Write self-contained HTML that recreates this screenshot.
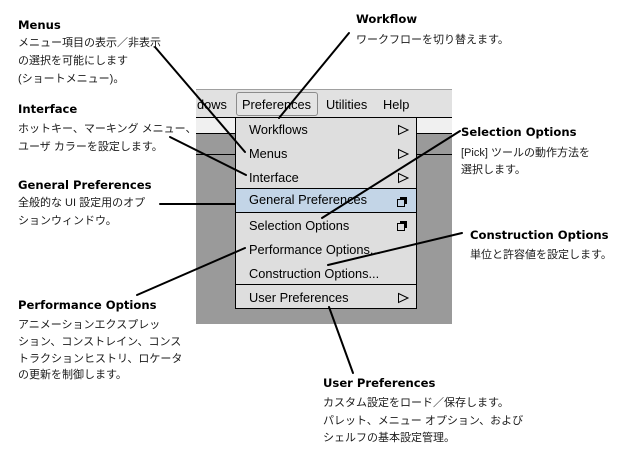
<!DOCTYPE html>
<html>
<head>
<meta charset="utf-8">
<style>
  html, body { margin:0; padding:0; }
  body { width:631px; height:470px; position:relative; background:#fff; overflow:hidden; }
  .t { position:absolute; font-family:"DejaVu Sans","Liberation Sans",sans-serif; font-weight:bold; font-size:11.6px; line-height:14px; color:#000; white-space:nowrap; }
  .j { position:absolute; font-family:"Liberation Sans","Noto Sans CJK JP",sans-serif; font-size:11px; line-height:16px; color:#1a1a1a; white-space:nowrap; }
  .m { position:absolute; font-family:"Liberation Sans",sans-serif; font-size:12.8px; line-height:16px; color:#000; white-space:nowrap; }
  .abs { position:absolute; }
</style>
</head>
<body>

<!-- UI panel -->
<div class="abs" style="left:196px;top:89px;width:256px;height:235px;background:#9a9a9a;"></div>
<!-- menubar -->
<div class="abs" style="left:196px;top:89px;width:256px;height:28px;background:#e1e1e1;border-top:1px solid #a0a0a0;box-sizing:border-box;"></div>
<div class="abs" style="left:196px;top:117px;width:256px;height:1px;background:#000;"></div>
<!-- light strip -->
<div class="abs" style="left:196px;top:118px;width:256px;height:15px;background:#f0f0f0;"></div>
<div class="abs" style="left:196px;top:133px;width:256px;height:1px;background:#000;"></div>
<div class="abs" style="left:196px;top:154px;width:256px;height:1px;background:#000;"></div>

<!-- Preferences button -->
<div class="abs" style="left:236px;top:92px;width:82px;height:24px;border:1px solid #8c8c8c;border-radius:3px;box-sizing:border-box;background:#e4e4e4;"></div>

<div class="m" style="left:197px;top:97px;">dows</div>
<div class="m" style="left:242px;top:97px;">Preferences</div>
<div class="m" style="left:326px;top:97px;">Utilities</div>
<div class="m" style="left:383px;top:97px;">Help</div>

<!-- dropdown -->
<div class="abs" style="left:235px;top:117px;width:182px;height:192px;background:#dedede;border:1px solid #000;box-sizing:border-box;"></div>
<div class="abs" style="left:236px;top:189px;width:180px;height:23px;background:#c3d5e7;"></div>
<div class="abs" style="left:236px;top:188px;width:180px;height:1px;background:#000;"></div>
<div class="abs" style="left:236px;top:212px;width:180px;height:1px;background:#000;"></div>
<div class="abs" style="left:236px;top:284px;width:180px;height:1px;background:#000;"></div>

<div class="m" style="left:249px;top:122px;">Workflows</div>
<div class="m" style="left:249px;top:146px;">Menus</div>
<div class="m" style="left:249px;top:170px;">Interface</div>
<div class="m" style="left:249px;top:192px;">General Preferences</div>
<div class="m" style="left:249px;top:218px;">Selection Options</div>
<div class="m" style="left:249px;top:242px;">Performance Options...</div>
<div class="m" style="left:249px;top:266px;">Construction Options...</div>
<div class="m" style="left:249px;top:290px;">User Preferences</div>

<!-- Annotation text -->
<div class="t" style="left:18px;top:18px;">Menus</div>
<div class="j" style="left:18px;top:35px;">メニュー項目の表示／非表示</div>
<div class="j" style="left:18px;top:53px;">の選択を可能にします</div>
<div class="j" style="left:18px;top:71px;">(ショートメニュー)。</div>

<div class="t" style="left:18px;top:102px;">Interface</div>
<div class="j" style="left:18px;top:121px;">ホットキー、マーキング メニュー、</div>
<div class="j" style="left:18px;top:139px;">ユーザ カラーを設定します。</div>

<div class="t" style="left:18px;top:178px;">General Preferences</div>
<div class="j" style="left:18px;top:195px;">全般的な UI 設定用のオプ</div>
<div class="j" style="left:18px;top:213px;">ションウィンドウ。</div>

<div class="t" style="left:18px;top:298px;">Performance Options</div>
<div class="j" style="left:18px;top:317px;">アニメーションエクスプレッ</div>
<div class="j" style="left:18px;top:334px;">ション、コンストレイン、コンス</div>
<div class="j" style="left:18px;top:351px;">トラクションヒストリ、ロケータ</div>
<div class="j" style="left:18px;top:367px;">の更新を制御します。</div>

<div class="t" style="left:356px;top:12px;">Workflow</div>
<div class="j" style="left:356px;top:32px;">ワークフローを切り替えます。</div>

<div class="t" style="left:461px;top:125px;">Selection Options</div>
<div class="j" style="left:461px;top:145px;">[Pick] ツールの動作方法を</div>
<div class="j" style="left:461px;top:162px;">選択します。</div>

<div class="t" style="left:470px;top:228px;">Construction Options</div>
<div class="j" style="left:470px;top:247px;">単位と許容値を設定します。</div>

<div class="t" style="left:323px;top:376px;">User Preferences</div>
<div class="j" style="left:323px;top:395px;">カスタム設定をロード／保存します。</div>
<div class="j" style="left:323px;top:413px;">パレット、メニュー オプション、および</div>
<div class="j" style="left:323px;top:430px;">シェルフの基本設定管理。</div>

<!-- icons and connectors -->
<svg class="abs" style="left:0;top:0;" width="631" height="470" viewBox="0 0 631 470">
  <g fill="none" stroke="#000" stroke-width="1">
    <polygon points="398.5,125.5 408,130 398.5,134.5"/>
    <polygon points="398.5,149.5 408,154 398.5,158.5"/>
    <polygon points="398.5,173.5 408,178 398.5,182.5"/>
    <polygon points="398.5,293.5 408,298 398.5,302.5"/>
  </g>
  <!-- window icons -->
  <rect x="400" y="197" width="7" height="7" fill="#000"/>
  <rect x="397.5" y="199.5" width="7" height="7" fill="#c3d5e7" stroke="#000" stroke-width="1"/>
  <rect x="400" y="221" width="7" height="7" fill="#000"/>
  <rect x="397.5" y="223.5" width="7" height="7" fill="#dedede" stroke="#000" stroke-width="1"/>

  <g stroke="#000" stroke-width="2" stroke-linecap="round">
    <line x1="155" y1="47" x2="245" y2="152"/>
    <line x1="170" y1="137" x2="246" y2="175"/>
    <line x1="160" y1="204" x2="235" y2="204"/>
    <line x1="137" y1="295" x2="245" y2="248"/>
    <line x1="349" y1="33" x2="279" y2="118"/>
    <line x1="460" y1="131" x2="322" y2="218"/>
    <line x1="462" y1="233" x2="328" y2="265"/>
    <line x1="329" y1="307" x2="353" y2="373"/>
  </g>
</svg>

</body>
</html>
